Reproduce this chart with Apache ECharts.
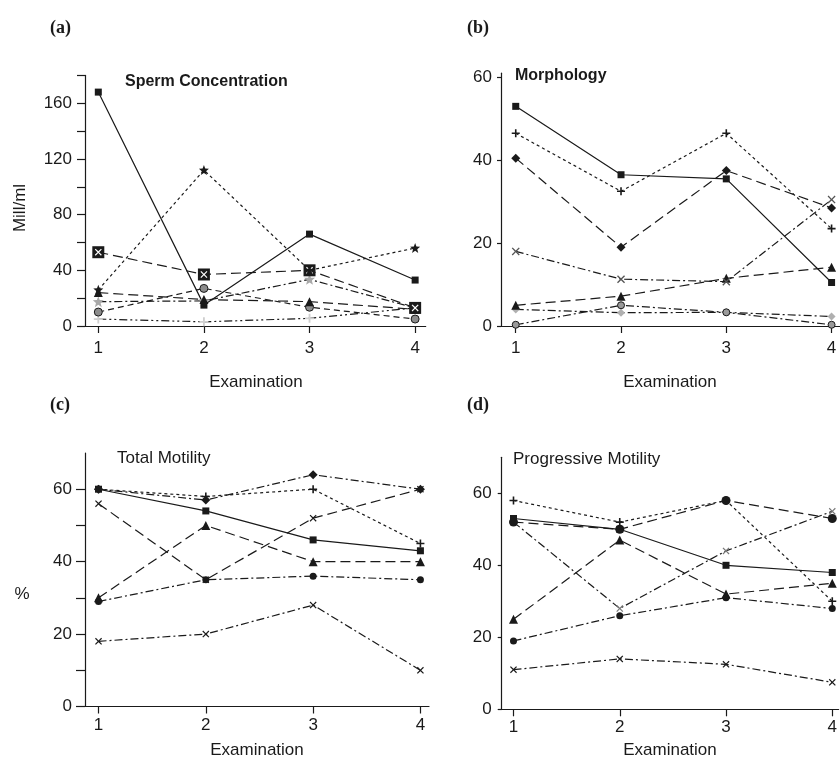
<!DOCTYPE html>
<html><head><meta charset="utf-8">
<script src="https://cdn.jsdelivr.net/npm/echarts@6/dist/echarts.min.js"></script>
<style>html,body{margin:0;padding:0;background:#fff}#c{width:840px;height:763px}</style>
</head><body><div id="c"></div>
<script>
// x categories (examination number)
const exams = [1, 2, 3, 4];
const examLabels = [1, 2, 3, 4];

// (a) Sperm Concentration, Mill/ml
const concA = [168, 15, 66, 33];
const concB = [26, 112, 40, 56];
const concC = [53, 37, 40, 13];
const concD = [24, 19, 17.5, 12];
const concE = [10, 27, 13.5, 5];
const concF = [17.5, 18, 33.5, 13];
const concG = [5, 3, 5.5, 13];
const concTickLabels = [0, 40, 80, 120, 160];
const concTicks = [0, 20, 40, 60, 80, 100, 120, 140, 160, 180];

// (b) Morphology
const morphA = [53, 36.5, 35.5, 10.5];
const morphB = [46.5, 32.5, 46.5, 23.5];
const morphC = [40.5, 19, 37.5, 28.5];
const morphD = [18, 11.3, 10.7, 30.5];
const morphE = [5, 7.2, 11.5, 14.2];
const morphF = [0.3, 5, 3.3, 0.3];
const morphG = [4, 3.2, 3.3, 2.3];
const morphTickLabels = [0, 20, 40, 60];

// (c) Total Motility, %
const totA = [60, 54, 46, 43];
const totB = [60, 57, 64, 60];
const totC = [60, 58, 60, 45];
const totD = [56, 35, 52, 60];
const totE = [30, 50, 40, 40];
const totF = [29, 35, 36, 35];
const totG = [18, 20, 28, 10];
const totTickLabels = [0, 20, 40, 60];
const totTicks = [0, 10, 20, 30, 40, 50, 60];

// (d) Progressive Motility, %
const progA = [53, 50, 40, 38];
const progB = [52, 50, 58, 53];
const progC = [58, 52, 58, 30];
const progD = [52, 28, 44, 55];
const progE = [25, 47, 32, 35];
const progF = [19, 26, 31, 28];
const progG = [11, 14, 12.5, 7.5];
const progTickLabels = [0, 20, 40, 60];

const INK = '#1a1a1a';
const SANS = '"Liberation Sans", Arial, sans-serif';
const PLUS = 'path://M4,0H6V4H10V6H6V10H4V6H0V4H4Z';
const XMARK = 'path://M0,1.2L1.2,0L5,3.8L8.8,0L10,1.2L6.2,5L10,8.8L8.8,10L5,6.2L1.2,10L0,8.8L3.8,5Z';
const STAR = 'path://M5,0L6.3,3.3L10,3.5L7.1,5.9L8.1,9.6L5,7.5L1.9,9.6L2.9,5.9L0,3.5L3.7,3.3Z';

const SOLID = 'solid', SHORT = [3, 3], LONG = [10, 5], DASHDOT = [8, 3, 2, 3], DASHDOT2 = [8, 3, 2, 3, 2, 3], MED = [6, 4];

function pts(arr) { return exams.map((x, i) => [x, arr[i]]); }

function ser(idx, arr, dash, symbol, size, fill, border, lineOpacity) {
  return {
    type: 'line', xAxisIndex: idx, yAxisIndex: idx, data: pts(arr),
    symbol: symbol, symbolSize: size, showSymbol: true, animation: false,
    lineStyle: { color: INK, width: 1.2, type: dash, opacity: lineOpacity === undefined ? 1 : lineOpacity },
    itemStyle: { color: fill, borderColor: border || fill, borderWidth: border ? 1 : 0, opacity: 1 },
    emphasis: { disabled: true }, z: 3
  };
}

const grids = [
  { left: 85, top: 75.4, width: 340.7, height: 250.6 },
  { left: 501, top: 73.2, width: 339, height: 252.8 },
  { left: 85, top: 453, width: 344, height: 253.5 },
  { left: 501.7, top: 457.3, width: 338.3, height: 252 }
];
const xr = [[0.874, 4.1], [0.86, 4.08], [0.874, 4.08], [0.889, 4.06]];
const yr = [[0, 180], [0, 61], [0, 70], [0, 70]];
const yLabelVals = [concTickLabels, morphTickLabels, totTickLabels, progTickLabels];
const yTickVals = [concTicks, morphTickLabels, totTicks, progTickLabels];
const yTickLen = [8, 4, 9, 4];
const yLabelMargin = [13, 9, 13, 10];
const xLabelMargin = [14, 14, 10, 10];

const xAxes = grids.map((g, i) => ({
  type: 'value', gridIndex: i, min: xr[i][0], max: xr[i][1],
  axisLine: { show: true, onZero: false, lineStyle: { color: INK, width: 1.2 } },
  axisTick: { show: true, customValues: examLabels, length: 7, lineStyle: { color: INK, width: 1.2 } },
  axisLabel: { customValues: examLabels, margin: xLabelMargin[i], color: INK, fontSize: 17, fontFamily: SANS },
  splitLine: { show: false }
}));
const yAxes = grids.map((g, i) => ({
  type: 'value', gridIndex: i, min: yr[i][0], max: yr[i][1],
  axisLine: { show: true, onZero: false, lineStyle: { color: INK, width: 1.2 } },
  axisTick: { show: true, customValues: yTickVals[i], length: yTickLen[i], lineStyle: { color: INK, width: 1.2 } },
  axisLabel: { customValues: yLabelVals[i], margin: yLabelMargin[i], color: INK, fontSize: 17, fontFamily: SANS },
  splitLine: { show: false }
}));

const series = [
  // (a)
  ser(0, concG, DASHDOT2, PLUS, 9, '#cfcfcf'),
  ser(0, concF, DASHDOT, STAR, 11, '#a9a9a9'),
  ser(0, concE, MED, 'circle', 8, '#8c8c8c', INK),
  ser(0, concD, LONG, 'triangle', 9, INK),
  ser(0, concC, LONG, 'rect', 12, INK),
  ser(0, concC, LONG, XMARK, 7, '#ffffff', null, 0),
  ser(0, concB, SHORT, STAR, 10, INK),
  ser(0, concA, SOLID, 'rect', 7, INK),
  // (b)
  ser(1, morphG, DASHDOT, 'diamond', 8, '#b0b0b0'),
  ser(1, morphF, DASHDOT, 'circle', 7, '#9a9a9a', INK),
  ser(1, morphE, LONG, 'triangle', 9, INK),
  ser(1, morphD, DASHDOT, XMARK, 8, '#555555'),
  ser(1, morphC, LONG, 'diamond', 9, INK),
  ser(1, morphB, SHORT, PLUS, 8, INK),
  ser(1, morphA, SOLID, 'rect', 7, INK),
  // (c)
  ser(2, totG, DASHDOT, XMARK, 7, INK),
  ser(2, totF, DASHDOT, 'circle', 7, INK),
  ser(2, totE, LONG, 'triangle', 9, INK),
  ser(2, totD, LONG, XMARK, 7, INK),
  ser(2, totC, SHORT, PLUS, 8, INK),
  ser(2, totB, DASHDOT, 'diamond', 9, INK),
  ser(2, totA, SOLID, 'rect', 7, INK),
  // (d)
  ser(3, progG, DASHDOT, XMARK, 7, INK),
  ser(3, progF, DASHDOT, 'circle', 7, INK),
  ser(3, progE, LONG, 'triangle', 9, INK),
  ser(3, progD, DASHDOT, XMARK, 7, '#777777'),
  ser(3, progC, SHORT, PLUS, 8, INK),
  ser(3, progB, LONG, 'circle', 9, INK),
  ser(3, progA, SOLID, 'rect', 7, INK)
];

function txt(x, y, text, font, align, rot) {
  return {
    type: 'text', x: x, y: y, rotation: rot || 0, silent: true,
    style: { text: text, font: font, fill: INK, align: align || 'center', verticalAlign: 'middle',
             textAlign: align || 'center', textVerticalAlign: 'middle' }
  };
}
const SERIFB = 'bold 18px "Liberation Serif", "Times New Roman", serif';
const graphics = [
  txt(50, 28, '(a)', SERIFB, 'left'),
  txt(467, 28, '(b)', SERIFB, 'left'),
  txt(50, 405, '(c)', SERIFB, 'left'),
  txt(467, 405, '(d)', SERIFB, 'left'),
  txt(125, 82, 'Sperm Concentration', 'bold 16px ' + SANS, 'left'),
  txt(515, 76, 'Morphology', 'bold 16px ' + SANS, 'left'),
  txt(117, 458, 'Total Motility', '17px ' + SANS, 'left'),
  txt(513, 459, 'Progressive Motility', '17px ' + SANS, 'left'),
  txt(256, 382, 'Examination', '17px ' + SANS, 'center'),
  txt(670, 382, 'Examination', '17px ' + SANS, 'center'),
  txt(257, 750, 'Examination', '17px ' + SANS, 'center'),
  txt(670, 750, 'Examination', '17px ' + SANS, 'center'),
  txt(20, 208, 'Mill/ml', '17px ' + SANS, 'center', Math.PI / 2),
  txt(22, 594, '%', '17px ' + SANS, 'center')
];

const chart = echarts.init(document.getElementById('c'), null, { renderer: 'canvas' });
chart.setOption({
  backgroundColor: '#ffffff',
  animation: false,
  grid: grids,
  xAxis: xAxes,
  yAxis: yAxes,
  series: series,
  graphic: graphics
});
</script></body></html>
